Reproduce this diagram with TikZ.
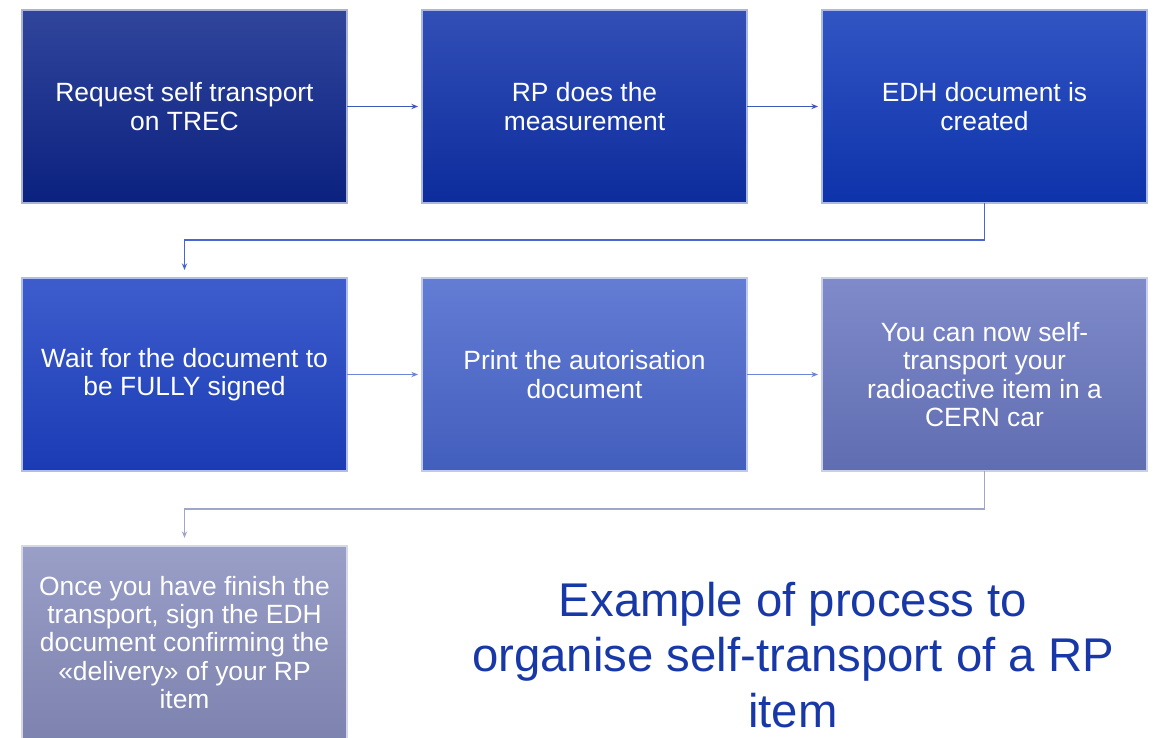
\documentclass[tikz,border=0pt]{standalone}
\usepackage{fontspec}
\setmainfont{Liberation Sans}
\usetikzlibrary{positioning,arrows.meta}

\definecolor{stepA}{RGB}{12,36,138}
\definecolor{stepB}{RGB}{14,48,170}
\definecolor{stepC}{RGB}{14,55,185}
\definecolor{stepD}{RGB}{28,64,196}
\definecolor{stepE}{RGB}{72,102,205}
\definecolor{stepF}{RGB}{104,118,192}
\definecolor{stepG}{RGB}{136,142,190}
\definecolor{titleblue}{RGB}{24,56,168}

\tikzset{
  stepbox/.style={draw=#1!35!white, line width=0.8pt, top color=#1!85!white, bottom color=#1!92!black,
    minimum width=243.75pt, minimum height=144.75pt, inner sep=0pt, outer sep=0pt, align=center,
    text=white, font=\fontsize{19.8}{21.2}\selectfont},
  flow/.style={draw=#1, line width=0.8pt, -{Stealth[length=5pt,width=4pt]}, shorten >=3pt},
}

\begin{document}
\begin{tikzpicture}[x=0.75pt,y=0.75pt,yscale=-1,xscale=1, node distance=56.25pt]
\useasboundingbox (0,0) rectangle (1153,738);

%Row 1
\node [stepbox=stepA] (req) at (184.5,106.5) {Request self transport\\on TREC};
\node [stepbox=stepB, right=of req] (meas) {RP does the\\measurement};
\node [stepbox=stepC, right=of meas] (edh) {EDH document is\\created};
%Row 2
\node [stepbox=stepD, below=of req] (wait) {Wait for the document to\\be FULLY signed};
\node [stepbox=stepE, right=of wait] (print) {Print the autorisation\\document};
\node [stepbox=stepF, right=of print] (car) {You can now self-\\transport your\\radioactive item in a\\CERN car};
%Row 3
\node [stepbox=stepG, below=of wait] (sign) {Once you have finish the\\transport, sign the EDH\\document confirming the\\«delivery» of your RP\\item};

%Connectors
\draw [flow=stepB!80!white] (req.east) -- (meas.west);
\draw [flow=stepB!80!white] (meas.east) -- (edh.west);
\draw [flow=stepD!80!white, shorten >=6pt] (edh.south) -- ++(0,37) -| (wait.north);
\draw [flow=stepE!80!white] (wait.east) -- (print.west);
\draw [flow=stepE!80!white] (print.east) -- (car.west);
\draw [flow=stepG!80!white, shorten >=6pt] (car.south) -- ++(0,38) -| (sign.north);

% Text Node
\node [align=center, text=titleblue, font=\fontsize{35.5}{41.5}\selectfont, inner sep=0pt] (title) at (793,655) {Example of process to\\organise self-transport of a RP\\item};

\end{tikzpicture}
\end{document}
